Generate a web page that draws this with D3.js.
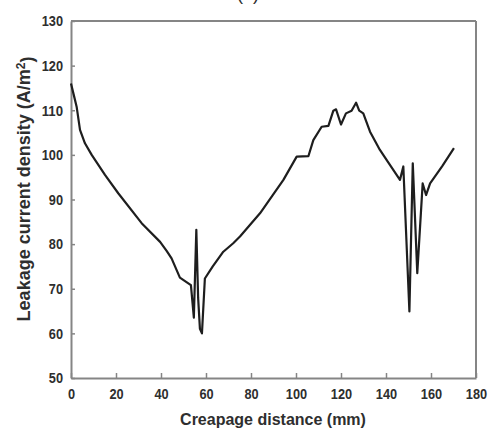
<!DOCTYPE html>
<html><head><meta charset="utf-8">
<script src="https://cdn.jsdelivr.net/npm/d3@7"></script>
<style>
html,body{margin:0;padding:0;background:#fff;}
svg{display:block;}
</style></head>
<body>
<svg id="chart" width="488" height="431"></svg>
<script>
const distance = [0,1.2,2.5,4,6.2,9.2,15.1,21,31.4,39.6,42.5,44.7,48.4,51,53.3,54.6,55.7,56.5,57.3,58.2,59.5,63,67.7,72.1,75.1,84,94.4,100.3,105.5,107.7,111.4,114.4,116.6,117.8,120,122.2,124.7,126.7,128.1,129.9,132.9,137.3,141,146.2,147.7,150.4,151.9,153.9,156.3,157.8,159.6,165,170.2];
const density = [116,113.5,110.8,105.6,102.6,100,95.5,91.4,84.7,80.5,78.5,76.8,72.5,71.6,70.8,63.5,83.2,68,61,60,72.3,75,78.3,80.2,81.7,86.9,94.4,99.6,99.7,103.3,106.3,106.5,109.9,110.2,106.8,109.3,109.9,111.7,109.9,109.3,105.2,101.1,98.3,94.4,97.4,64.9,98.1,73.5,93.6,91,93.6,97.5,101.5];
const xTicks = [0,20,40,60,80,100,120,140,160,180];
const yTicks = [50,60,70,80,90,100,110,120,130];
const xTitle = "Creapage distance (mm)";
const yTitle = "Leakage current density (A/m";
const panelLabel = "(a)";

const svg = d3.select("#chart");
const L = 71, R = 476, T = 21, B = 378;
const x = d3.scaleLinear().domain([0,180]).range([L,R]);
const y = d3.scaleLinear().domain([50,130]).range([B,T]);
const axisColor = "#858585";
const textColor = "#2e2e2e";
const titleFont = "'Liberation Sans',Arial,sans-serif";

// frame top/right
svg.append("line").attr("x1",L).attr("x2",R).attr("y1",T).attr("y2",T)
  .attr("stroke",axisColor).attr("stroke-width",2);
svg.append("line").attr("x1",R).attr("x2",R).attr("y1",T).attr("y2",B)
  .attr("stroke",axisColor).attr("stroke-width",2);

const xAxis = svg.append("g").attr("transform",`translate(0,${B})`)
  .call(d3.axisBottom(x).tickValues(xTicks).tickSizeInner(-5).tickSizeOuter(0).tickPadding(10));
const yAxis = svg.append("g").attr("transform",`translate(${L},0)`)
  .call(d3.axisLeft(y).tickValues(yTicks).tickSizeInner(-4).tickSizeOuter(0).tickPadding(8));
[xAxis,yAxis].forEach(g=>{
  g.select(".domain").attr("stroke",axisColor).attr("stroke-width",2);
  g.selectAll(".tick line").attr("stroke",axisColor).attr("stroke-width",1.5);
  g.selectAll(".tick text").attr("fill",textColor)
    .style("font-family",titleFont).style("font-weight","bold").style("font-size","15px")
    .attr("textLength",d=>String(d).length*7.1).attr("lengthAdjust","spacingAndGlyphs");
});
xAxis.selectAll(".tick text").attr("dy","0.72em");

// line
const line = d3.line().x((d,i)=>x(distance[i])).y((d,i)=>y(density[i]));
svg.append("path").datum(density).attr("d",line)
  .attr("fill","none").attr("stroke","#1e1e1e").attr("stroke-width",2.2)
  .attr("stroke-linejoin","round");

// titles
svg.append("text").attr("x",273).attr("y",425).attr("text-anchor","middle")
  .attr("fill",textColor).style("font-family",titleFont).style("font-weight","bold").style("font-size","16px")
  .text(xTitle);
const yt = svg.append("text").attr("transform","translate(30,189) rotate(-90)").attr("text-anchor","middle")
  .attr("fill",textColor).style("font-family",titleFont).style("font-weight","bold").style("font-size","18px");
yt.append("tspan").text(yTitle);
yt.append("tspan").attr("dy","-0.45em").style("font-size","12px").text("2");
yt.append("tspan").attr("dy","0.45em").text(")");

svg.append("text").attr("x",248).attr("y",0).attr("text-anchor","middle")
  .attr("fill",textColor).style("font-family",titleFont).style("font-size","18px").text(panelLabel);
</script>
</body></html>
